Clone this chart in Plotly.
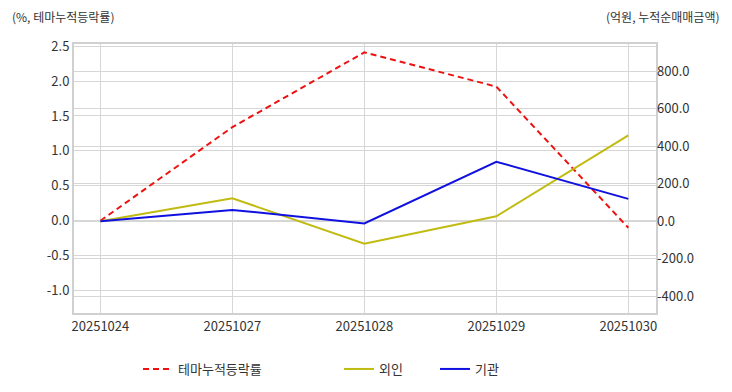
import plotly.graph_objects as go

dates = ["20251024", "20251027", "20251028", "20251029", "20251030"]
theme_rate = [0.0, 1.34, 2.41, 1.92, -0.10]
foreign = [0.0, 123.0, -119.0, 27.0, 459.0]
institution = [0.0, 61.0, -11.0, 318.0, 120.0]

left_ticks = [-1.0, -0.5, 0.0, 0.5, 1.0, 1.5, 2.0, 2.5]
right_ticks = [-400, -200, 0, 200, 400, 600, 800]

FONT = "Noto Sans CJK KR, Noto Sans, sans-serif"
x_idx = list(range(len(dates)))

fig = go.Figure()
fig.add_trace(go.Scatter(x=x_idx, y=theme_rate, name="테마누적등락률", mode="lines",
                         line=dict(color="#ee1111", width=2, dash="6px,4px"),
                         legend="legend", yaxis="y"))
fig.add_trace(go.Scatter(x=x_idx, y=foreign, name="외인", mode="lines",
                         line=dict(color="#c0bb10", width=2),
                         legend="legend2", yaxis="y2"))
fig.add_trace(go.Scatter(x=x_idx, y=institution, name="기관", mode="lines",
                         line=dict(color="#1010e0", width=2),
                         legend="legend3", yaxis="y2"))

leg_common = dict(orientation="h", yref="container", yanchor="middle", y=0.0599,
                  xanchor="left",
                  font=dict(family=FONT, size=13, color="#333333"),
                  bgcolor="rgba(0,0,0,0)", borderwidth=0)

fig.update_layout(
    width=724, height=384,
    margin=dict(l=66, r=76, t=36, b=79),
    showlegend=True,
    paper_bgcolor="white", plot_bgcolor="white",
    font=dict(family=FONT, size=13, color="#333333"),
    xaxis=dict(tickmode="array", tickvals=x_idx, ticktext=dates, range=[-0.2, 4.21],
               showgrid=True, gridcolor="#d6d6d6", gridwidth=1,
               showline=True, linecolor="#d0d0d0", linewidth=2, mirror=True,
               ticks="", zeroline=False, tickfont=dict(size=13, color="#333333")),
    yaxis=dict(tickmode="array", tickvals=left_ticks,
               ticktext=[f"{v:.1f}" for v in left_ticks], range=[-1.32, 2.53],
               showgrid=True, gridcolor="#d6d6d6", gridwidth=1, zeroline=False,
               showline=True, linecolor="#d0d0d0", linewidth=2, mirror=True,
               ticks="", tickfont=dict(size=13, color="#333333")),
    yaxis2=dict(tickmode="array", tickvals=right_ticks,
                ticktext=[f"{v:.1f}" for v in right_ticks], range=[-489, 946],
                overlaying="y", side="right",
                showgrid=True, gridcolor="#d6d6d6", gridwidth=1, zeroline=False,
                showline=False, ticks="", tickfont=dict(size=13, color="#333333")),
    legend=dict(x=0.11, **leg_common),
    legend2=dict(x=0.4553, **leg_common),
    legend3=dict(x=0.6203, **leg_common),
    annotations=[
        dict(text="(%, 테마누적등락률)", xref="paper", yref="paper", x=-0.11, y=1.104,
             xanchor="left", yanchor="middle", showarrow=False,
             font=dict(family=FONT, size=12, color="#333333")),
        dict(text="(억원, 누적순매매금액)", xref="paper", yref="paper", x=1.1134, y=1.104,
             xanchor="right", yanchor="middle", showarrow=False,
             font=dict(family=FONT, size=12, color="#333333")),
    ],
)

fig.write_html("out.html")
